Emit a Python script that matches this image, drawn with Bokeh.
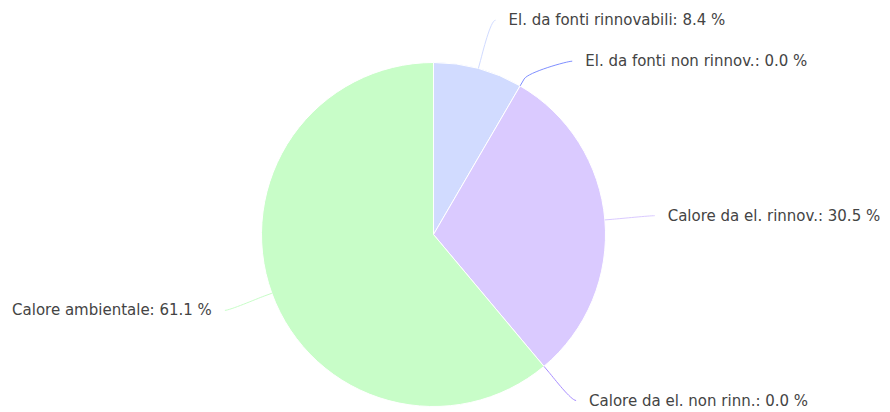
import math
from bokeh.plotting import figure
from bokeh.models import Range1d, ColumnDataSource
from bokeh.core.properties import value
from bokeh.embed import file_html
from bokeh.resources import INLINE

# ---- data ----
labels = ["El. da fonti rinnovabili", "El. da fonti non rinnov.", "Calore da el. rinnov.",
          "Calore da el. non rinn.", "Calore ambientale"]
values = [8.4, 0.0, 30.5, 0.0, 61.1]
colors = ["#d1dbff", "#7f8fff", "#dacaff", "#a98eff", "#c8fdc8"]

# ---- layout ----
W, H = 890, 412
CX, CY, R = 433, 234, 172        # pixel space (y downwards)
DIST = 50                         # label distance
BREAK = 8                         # connector break offset
MIN_GAP = 41
TEXT_PAD = 13

def fy(y):
    return H - y

total = sum(values)
starts, ends, mids = [], [], []
acc = 0.0
for v in values:
    a0 = acc / total * 2 * math.pi
    acc += v
    a1 = acc / total * 2 * math.pi
    starts.append(a0); ends.append(a1); mids.append((a0 + a1) / 2)

# wedges (angle measured clockwise from top) -> bokeh angles (ccw from +x)
wx, wy, ws, we, wc = [], [], [], [], []
for v, a0, a1, c in zip(values, starts, ends, colors):
    if v <= 0:
        continue
    wx.append(CX); wy.append(fy(CY))
    ws.append(math.pi / 2 - a0); we.append(math.pi / 2 - a1); wc.append(c)

# label positions
D = R + DIST
info = []
for i, a in enumerate(mids):
    side = 1 if math.sin(a) >= 0 else -1
    ly = CY - D * math.cos(a)
    info.append(dict(i=i, a=a, side=side, y=ly))
for s in (1, -1):
    grp = sorted([d for d in info if d["side"] == s], key=lambda d: d["y"])
    for k in range(1, len(grp)):
        if grp[k]["y"] < grp[k - 1]["y"] + MIN_GAP:
            grp[k]["y"] = grp[k - 1]["y"] + MIN_GAP
for d in info:
    dy = d["y"] - CY
    dx = math.sqrt(max(D * D - dy * dy, 0))
    d["x"] = CX + d["side"] * max(dx, 62)
    d["y"] = min(max(d["y"], 12), H - 12)

p = figure(width=W, height=H, x_range=Range1d(0, W), y_range=Range1d(0, H),
           output_backend="svg", toolbar_location=None,
           x_axis_location=None, y_axis_location=None, min_border=0)
p.grid.visible = False
p.outline_line_color = None
p.background_fill_color = "white"

p.wedge(x=wx, y=wy, radius=R, start_angle=ws, end_angle=we, direction="clock",
        fill_color=wc, line_color="white", line_width=1)

# connectors
for d in info:
    a = d["a"]
    tx, ty = CX + R * math.sin(a), CY - R * math.cos(a)
    bx, by = CX + (R + BREAK) * math.sin(a), CY - (R + BREAK) * math.cos(a)
    lx, ly = d["x"], d["y"]
    c = colors[d["i"]]
    p.bezier(x0=[lx], y0=[fy(ly)], x1=[bx], y1=[fy(by)],
             cx0=[lx - d["side"] * 5], cy0=[fy(ly)],
             cx1=[2 * bx - tx], cy1=[fy(2 * by - ty)],
             line_color=c, line_width=1)
    p.line(x=[bx, tx], y=[fy(by), fy(ty)], line_color=c, line_width=1)

# label text
for align, s in (("left", 1), ("right", -1)):
    sel = [d for d in info if d["side"] == s]
    src = ColumnDataSource(dict(
        x=[d["x"] + s * TEXT_PAD for d in sel],
        y=[fy(d["y"]) for d in sel],
        t=["%s: %.1f %%" % (labels[d["i"]], values[d["i"]]) for d in sel]))
    p.text(x="x", y="y", text="t", source=src, text_align=align,
           text_baseline="middle", text_font=value("DejaVu Sans"),
           text_font_size="15px", text_color="#444444")

open("out.html", "w").write(file_html(p, INLINE))
